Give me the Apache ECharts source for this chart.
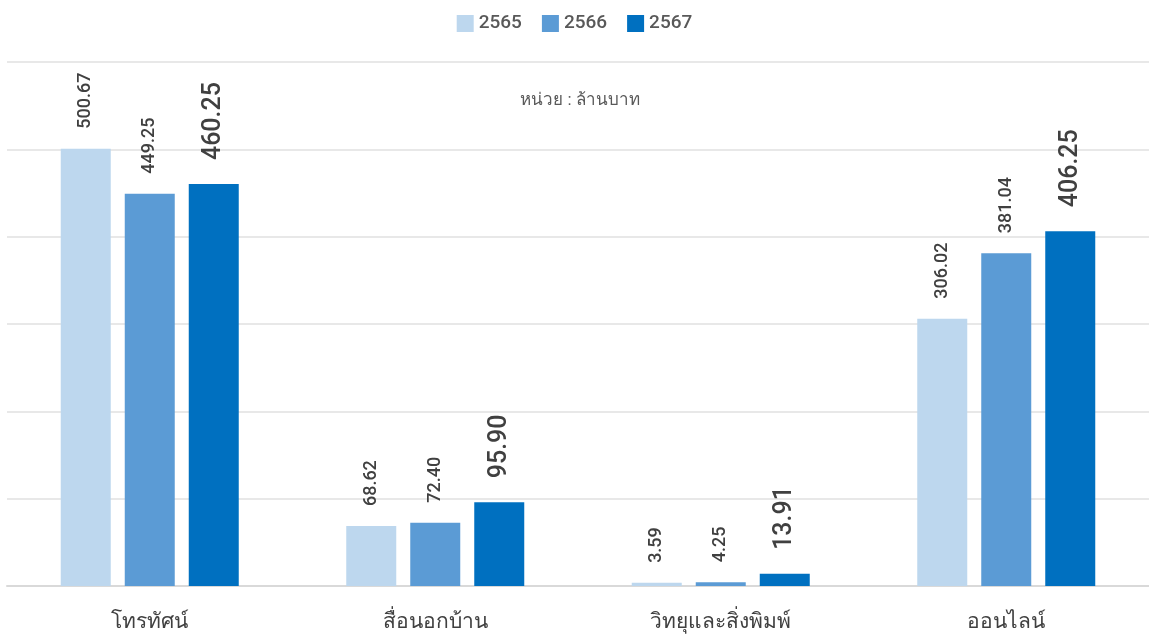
<!DOCTYPE html>
<html><head><meta charset="utf-8">
<script src="https://cdn.jsdelivr.net/npm/echarts@6/dist/echarts.min.js"></script>
<style>html,body{margin:0;padding:0;background:#fff}#c{width:1149px;height:641px}</style>
</head><body><div id="c"></div>
<script>
const categories = ['โทรทัศน์', 'สื่อนอกบ้าน', 'วิทยุและสิ่งพิมพ์', 'ออนไลน์'];
const seriesNames = ['2565', '2566', '2567'];
const values2565 = [500.67, 68.62, 3.59, 306.02];
const values2566 = [449.25, 72.40, 4.25, 381.04];
const values2567 = [460.25, 95.90, 13.91, 406.25];
const unitText = 'หน่วย : ล้านบาท';

const colors = ['#BDD7EE', '#5B9BD5', '#0070C0'];
const FONT = 'Roboto, "Liberation Sans", "Noto Sans", sans-serif';
const chart = echarts.init(document.getElementById('c'), null, {renderer: 'canvas'});
function lbl(size, dist) {
  return {show: true, position: 'top', rotate: 90, align: 'left', verticalAlign: 'middle',
    distance: dist, fontSize: size, fontWeight: 500, color: '#404040', fontFamily: FONT,
    formatter: p => p.value.toFixed(2)};
}
const datas = [values2565, values2566, values2567];
chart.setOption({
  animation: false,
  color: colors,
  legend: {top: 9, left: 'center', itemWidth: 17, itemHeight: 17, itemGap: 20,
    icon: 'rect', textStyle: {fontSize: 19, fontWeight: 500, color: '#595959', fontFamily: FONT},
    data: seriesNames},
  title: {text: unitText, left: 575, top: 87, textAlign: 'center',
    textStyle: {fontSize: 17, fontWeight: 'normal', color: '#595959', fontFamily: FONT}},
  grid: {left: 7, right: -3, top: 62, bottom: 55, containLabel: false},
  xAxis: {type: 'category', data: categories,
    axisLine: {lineStyle: {color: '#d9d9d9', width: 2}}, axisTick: {show: false},
    axisLabel: {fontSize: 21, color: '#404040', margin: 26, fontFamily: FONT}},
  yAxis: {type: 'value', min: 0, max: 600, interval: 100,
    axisLabel: {show: false}, axisLine: {show: false}, axisTick: {show: false},
    splitLine: {lineStyle: {color: '#e8e8e8', width: 2}}},
  series: seriesNames.map((n, i) => ({
    name: n, type: 'bar', data: datas[i], barWidth: 50, barGap: '28%',
    itemStyle: {color: colors[i]},
    label: i === 2 ? lbl(25, 24) : lbl(18, 20)
  }))
});
</script></body></html>
